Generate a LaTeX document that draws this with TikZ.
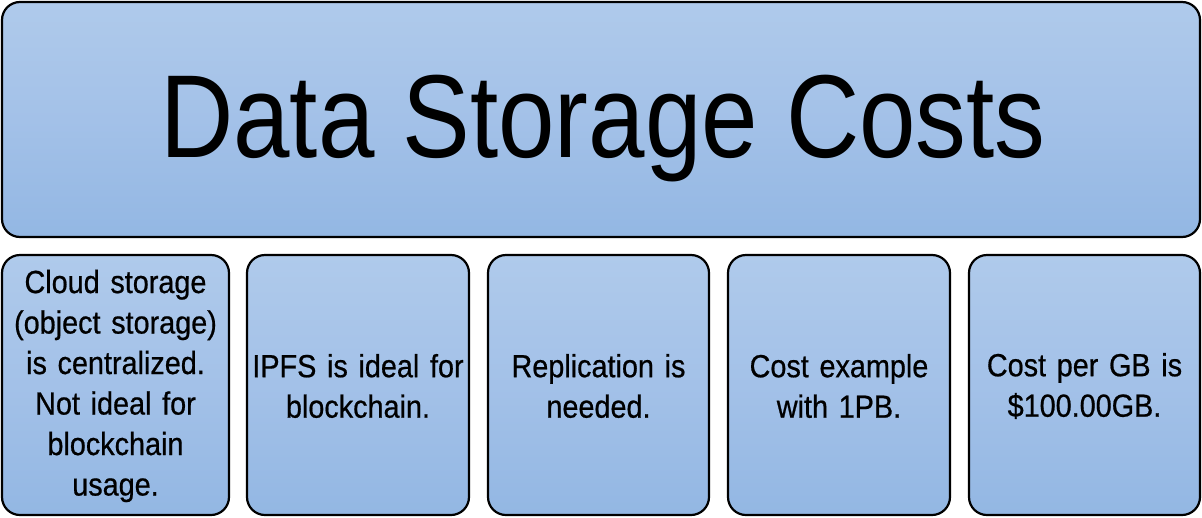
\documentclass[tikz,border=0pt]{standalone}
\usepackage{fontspec}
\setmainfont[FakeStretch=0.86]{Liberation Sans}
\newfontfamily\smallfont[FakeStretch=0.9,FakeBold=0.6]{Liberation Sans}
\begin{document}
\begin{tikzpicture}[x=1pt,y=-1pt,
  box/.style={draw=black,line width=2.2pt,rounded corners=18pt,top color=boxtop,bottom color=boxbot,middle color=boxmid},
  small/.style={font=\smallfont\fontsize{32}{40.5}\selectfont,align=center,text width=225pt}]
\definecolor{boxtop}{HTML}{AFCAEB}
\definecolor{boxmid}{HTML}{A3C1E8}
\definecolor{boxbot}{HTML}{93B7E3}
\useasboundingbox (0,0) rectangle (1202,517);
\draw[box] (2,2) rectangle (1200,237);
\node[anchor=base] (title) at (603,157) {\fontsize{118}{118}\selectfont Data Storage Costs};
\draw[box] (2,255) rectangle (229,515);
\draw[box] (247,255) rectangle (469,515);
\draw[box] (488,255) rectangle (709,515);
\draw[box] (728,255) rectangle (950,515);
\draw[box] (969,255) rectangle (1200,515);
\node[small] (b1) at (115.5,386) {Cloud storage\\(object storage)\\is centralized.\\Not ideal for\\blockchain\\usage.};
\node[small] (b2) at (358,386) {IPFS is ideal for\\blockchain.};
\node[small] (b3) at (598.5,386) {Replication is\\needed.};
\node[small] (b4) at (839,386) {Cost example\\with 1PB.};
\node[small] (b5) at (1084.5,386) {Cost per GB is\\\$100.00GB.};
\end{tikzpicture}
\end{document}
